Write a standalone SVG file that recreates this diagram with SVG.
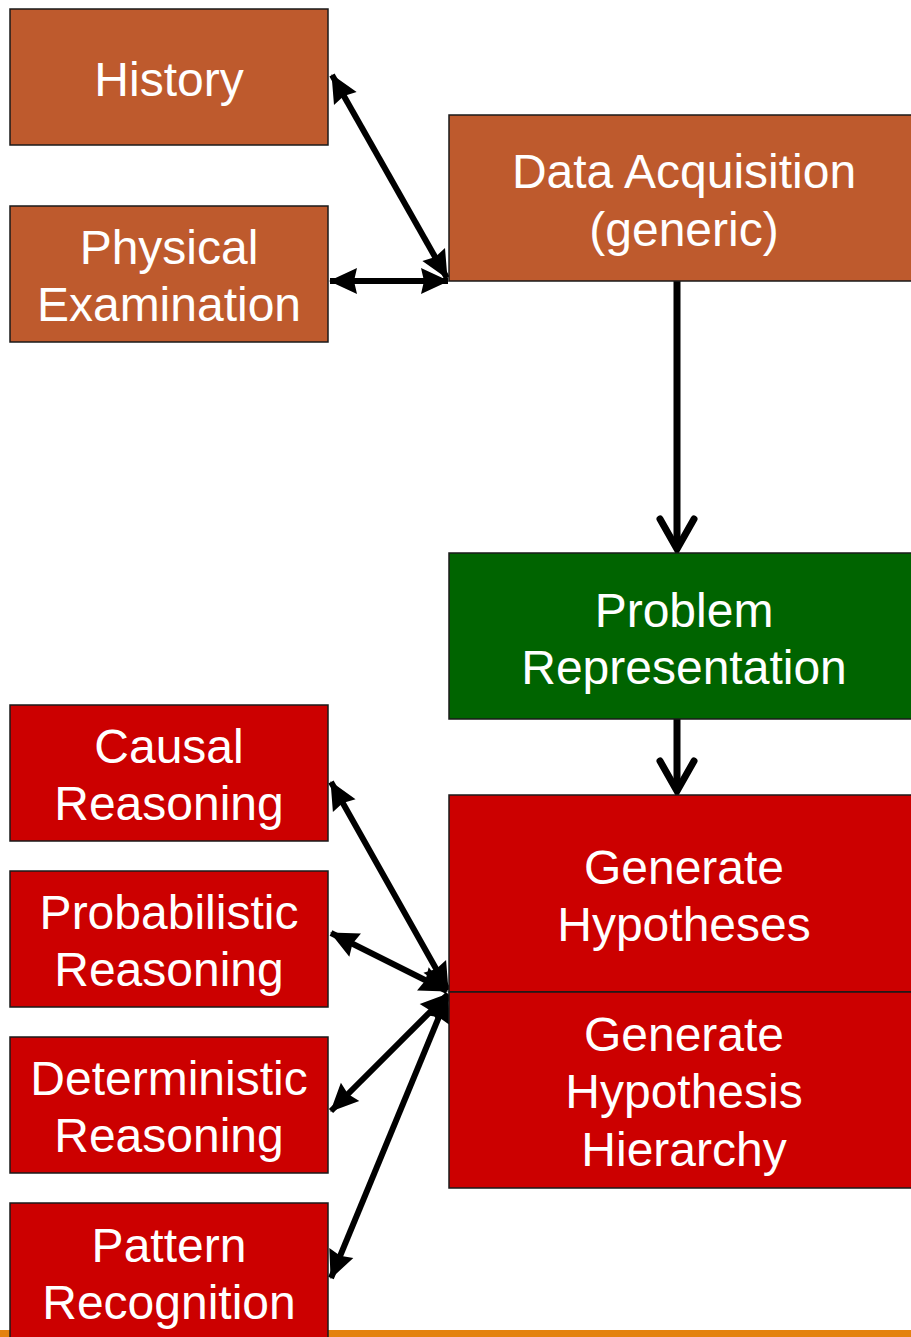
<svg xmlns="http://www.w3.org/2000/svg" width="911" height="1337" viewBox="0 0 911 1337">
  <style>
    .box { stroke: #1a1a1a; stroke-width: 1.5; }
    .brown { fill: #BE5A2D; }
    .green { fill: #006400; }
    .red { fill: #CC0000; }
    .label { font-family: "Liberation Sans", Arial, sans-serif; font-size: 48px; fill: #ffffff; text-anchor: middle; }
    .link { stroke: #000000; stroke-width: 6; fill: none; }
    .flow { stroke: #000000; stroke-width: 7; fill: none; }
  </style>
  <defs>
    <marker id="head" markerUnits="userSpaceOnUse" viewBox="-30 -15 32 30" refX="0" refY="0" markerWidth="32" markerHeight="30" orient="auto-start-reverse">
      <path d="M1,0 L-27,-13 L-24,0 L-27,13 Z" fill="#000000"/>
    </marker>
    <marker id="chevron" markerUnits="userSpaceOnUse" viewBox="-40 -24 44 48" refX="0" refY="0" markerWidth="44" markerHeight="48" orient="auto">
      <path d="M-30,-17 L0,0 L-30,17" fill="none" stroke="#000000" stroke-width="7" stroke-linecap="round" stroke-linejoin="miter"/>
    </marker>
  </defs>

  <rect x="0" y="1330" width="911" height="7" fill="#E4820F"/>

  <g id="connectors">
    <line class="link" x1="332" y1="75" x2="447" y2="278" marker-start="url(#head)" marker-end="url(#head)"/>
    <line class="link" x1="330" y1="281" x2="448" y2="281" marker-start="url(#head)" marker-end="url(#head)"/>
    <line class="flow" x1="677" y1="281" x2="677" y2="549" marker-end="url(#chevron)"/>
    <line class="flow" x1="677" y1="719" x2="677" y2="791" marker-end="url(#chevron)"/>
    <line class="link" x1="331" y1="782" x2="448" y2="990" marker-start="url(#head)" marker-end="url(#head)"/>
    <line class="link" x1="331" y1="933" x2="447" y2="991" marker-start="url(#head)" marker-end="url(#head)"/>
    <line class="link" x1="331" y1="1111" x2="448" y2="994" marker-start="url(#head)" marker-end="url(#head)"/>
    <line class="link" x1="331" y1="1278" x2="448" y2="995" marker-start="url(#head)" marker-end="url(#head)"/>
  </g>

  <g id="history">
    <rect class="box brown" x="10" y="9" width="318" height="136"/>
    <text class="label" x="169" y="96">History</text>
  </g>
  <g id="physical-examination">
    <rect class="box brown" x="10" y="206" width="318" height="136"/>
    <text class="label" x="169" y="264">Physical</text>
    <text class="label" x="169" y="321">Examination</text>
  </g>
  <g id="data-acquisition">
    <rect class="box brown" x="449" y="115" width="470" height="166"/>
    <text class="label" x="684" y="188">Data Acquisition</text>
    <text class="label" x="684" y="246">(generic)</text>
  </g>
  <g id="problem-representation">
    <rect class="box green" x="449" y="553" width="470" height="166"/>
    <text class="label" x="684" y="627">Problem</text>
    <text class="label" x="684" y="684">Representation</text>
  </g>
  <g id="generate-hypotheses">
    <rect class="box red" x="449" y="795" width="470" height="197"/>
    <text class="label" x="684" y="884">Generate</text>
    <text class="label" x="684" y="941">Hypotheses</text>
  </g>
  <g id="generate-hypothesis-hierarchy">
    <rect class="box red" x="449" y="992" width="470" height="196"/>
    <text class="label" x="684" y="1051">Generate</text>
    <text class="label" x="684" y="1108">Hypothesis</text>
    <text class="label" x="684" y="1166">Hierarchy</text>
  </g>
  <g id="causal-reasoning">
    <rect class="box red" x="10" y="705" width="318" height="136"/>
    <text class="label" x="169" y="763">Causal</text>
    <text class="label" x="169" y="820">Reasoning</text>
  </g>
  <g id="probabilistic-reasoning">
    <rect class="box red" x="10" y="871" width="318" height="136"/>
    <text class="label" x="169" y="929">Probabilistic</text>
    <text class="label" x="169" y="986">Reasoning</text>
  </g>
  <g id="deterministic-reasoning">
    <rect class="box red" x="10" y="1037" width="318" height="136"/>
    <text class="label" x="169" y="1095">Deterministic</text>
    <text class="label" x="169" y="1152">Reasoning</text>
  </g>
  <g id="pattern-recognition">
    <rect class="box red" x="10" y="1203" width="318" height="140"/>
    <text class="label" x="169" y="1262">Pattern</text>
    <text class="label" x="169" y="1319">Recognition</text>
  </g>
</svg>
